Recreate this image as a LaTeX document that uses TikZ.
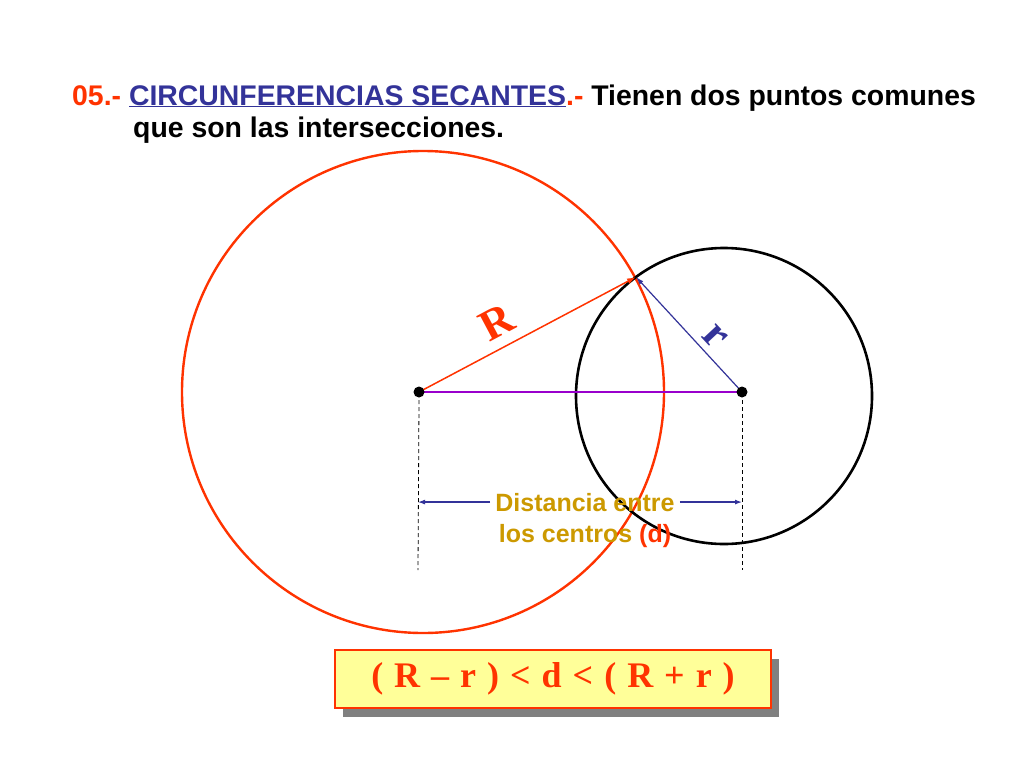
\documentclass[tikz,border=0pt]{standalone}
\usepackage{fontspec}
\setmainfont{Liberation Sans}
\newfontfamily\romanbf{Liberation Serif}
\usetikzlibrary{arrows.meta,shadows}
\definecolor{rojo}{RGB}{255,51,0}
\definecolor{azul}{RGB}{51,51,153}
\definecolor{oro}{RGB}{204,153,0}
\definecolor{violeta}{RGB}{153,0,204}
\definecolor{amarillo}{RGB}{255,255,153}
\tikzset{
  titulo/.style={anchor=base west,inner sep=0pt,font=\fontsize{28.4}{34}\selectfont\bfseries},
  leyenda/.style={anchor=base,inner xsep=5pt,inner ysep=0pt,text=oro,font=\fontsize{25}{30}\selectfont\bfseries},
  letra/.style={inner sep=0pt,font=\fontsize{44}{52}\selectfont\romanbf\bfseries},
  cota/.style={azul,line width=1.2pt,-{Latex[length=7pt,width=5pt]}},
  formula/.style={draw=rojo,line width=1.2pt,fill=amarillo,minimum width=436pt,minimum height=58pt,
    text=rojo,font=\fontsize{36}{42}\selectfont\romanbf\bfseries,
    drop shadow={shadow xshift=8pt,shadow yshift=-9pt,fill=gray,opacity=1}}
}
\begin{document}
\begin{tikzpicture}[x=1pt,y=-1pt]
\useasboundingbox[fill=white] (0,0) rectangle (1024,768);
% titulo
\node[titulo] (tit1) at (72,105) {{\color{rojo}05.-} {\color{azul}\underline{CIRCUNFERENCIAS SECANTES}}{\color{rojo}.-} Tienen dos puntos comunes};
\node[titulo] (tit2) at (133,137) {que son las intersecciones.};
% centros y punto comun
\coordinate (cA) at (419,392);
\coordinate (cB) at (742,392);
\coordinate (P) at (636,277);
\draw[rojo,line width=2.4pt] (423,392) circle[radius=241pt]; %Circunferencia grande
\draw[black,line width=2.6pt] (724,396) circle[radius=148pt]; %Circunferencia pequena
\draw[violeta,line width=1.5pt] (cA) -- (cB);
\draw[rojo,line width=1.5pt,-{Latex[length=9pt,width=6pt]}] (cA) -- (P);
\draw[azul,line width=1.2pt,-{Latex[length=8pt,width=5pt]}] (cB) -- (P);
\fill (cA) circle[radius=5.5pt];
\fill (cB) circle[radius=5.5pt];
\node[letra,text=rojo,rotate=28] (lR) at (497,322) {R};
\node[letra,text=azul,rotate=-47] (lr) at (715,337) {r};
% cotas
\coordinate (bA) at (418,570);
\coordinate (bB) at (742,570);
\draw[dashed,line width=0.8pt,dash pattern=on 4pt off 3pt] ([yshift=-8pt]cA) -- (bA);
\draw[dashed,line width=0.8pt,dash pattern=on 4pt off 3pt] ([yshift=-8pt]cB) -- (bB);
\node[leyenda] (d1) at (585,511) {Distancia entre};
\node[leyenda] (d2) at (585,542) {los centros {\color{rojo}(d)}};
\draw[cota] (d1.west) -- (d1.west -| bA);
\draw[cota] (d1.east) -- (d1.east -| bB);
% formula
\node[formula] (form) at (553,679) {\spaceskip=11pt\relax ( R – r ) < d < ( R + r )};
\end{tikzpicture}
\end{document}
